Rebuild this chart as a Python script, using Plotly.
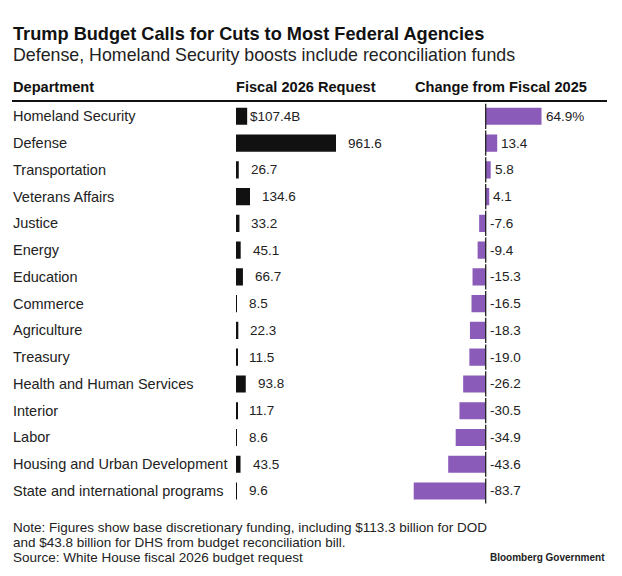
import plotly.graph_objects as go

# Dados
departments = [
    "Homeland Security", "Defense", "Transportation", "Veterans Affairs",
    "Justice", "Energy", "Education", "Commerce", "Agriculture", "Treasury",
    "Health and Human Services", "Interior", "Labor",
    "Housing and Urban Development", "State and international programs",
]
request_2026 = [107.4, 961.6, 26.7, 134.6, 33.2, 45.1, 66.7, 8.5, 22.3, 11.5,
                93.8, 11.7, 8.6, 43.5, 9.6]
change_2025 = [64.9, 13.4, 5.8, 4.1, -7.6, -9.4, -15.3, -16.5, -18.3, -19.0,
               -26.2, -30.5, -34.9, -43.6, -83.7]

W, H = 622, 576
OFF = 8  # margem padrão do body da página
FONT = "Liberation Sans"
BLACK = "#111111"
PURPLE = "#8a5bb8"
TXT = "#222222"


def px(x):
    return (x - OFF) / W


def py(y):
    return 1 - (y - OFF) / H


fig = go.Figure()

# Barras pretas: pedido fiscal 2026
fig.add_trace(go.Bar(
    x=request_2026, y=departments, orientation="h",
    marker=dict(color=BLACK, line=dict(width=0)),
    width=0.64, xaxis="x", yaxis="y", hoverinfo="x+y",
))

# Barras roxas: variação vs. 2025
fig.add_trace(go.Bar(
    x=change_2025, y=departments, orientation="h",
    marker=dict(color=PURPLE, line=dict(width=0)),
    width=0.64, xaxis="x2", yaxis="y", hoverinfo="x+y",
))

# Linha do zero em cada barra roxa
fig.add_trace(go.Scatter(
    x=[0] * len(departments), y=departments, mode="markers",
    marker=dict(symbol="line-ns", size=18, line=dict(width=1.3, color=TXT)),
    xaxis="x2", yaxis="y", hoverinfo="skip",
))

annotations = []
for i, (dep, req, chg) in enumerate(zip(departments, request_2026, change_2025)):
    # nome do departamento
    annotations.append(dict(
        x=px(11), xref="paper", y=dep, yref="y", text=dep, showarrow=False,
        xanchor="left", yanchor="middle", font=dict(size=14.5, color=TXT),
    ))
    # valor do pedido
    label = f"${req:.1f}B" if i == 0 else f"{req:.1f}"
    annotations.append(dict(
        x=req, xref="x", y=dep, yref="y", text=label, showarrow=False,
        xanchor="left", yanchor="middle", xshift=1 if i == 0 else 10,
        font=dict(size=13.5, color=TXT),
    ))
    # valor da variação
    clabel = f"{chg:.1f}%" if i == 0 else f"{chg:.1f}"
    annotations.append(dict(
        x=max(chg, 0), xref="x2", y=dep, yref="y", text=clabel, showarrow=False,
        xanchor="left", yanchor="middle", xshift=2,
        font=dict(size=13.5, color=TXT),
    ))

# Títulos e cabeçalhos
texts = [
    (11, 34, "<b>Trump Budget Calls for Cuts to Most Federal Agencies</b>", 18.2, "#111111"),
    (11, 55, "Defense, Homeland Security boosts include reconciliation funds", 17.8, TXT),
    (11, 87, "<b>Department</b>", 14.6, "#111111"),
    (234, 87, "<b>Fiscal 2026 Request</b>", 14.6, "#111111"),
    (413, 87, "<b>Change from Fiscal 2025</b>", 14.6, "#111111"),
    (11, 527, "Note: Figures show base discretionary funding, including $113.3 billion for DOD", 13.5, TXT),
    (11, 542, "and $43.8 billion for DHS from budget reconciliation bill.", 13.5, TXT),
    (11, 557, "Source: White House fiscal 2026 budget request", 13.5, TXT),
]
for x, y, t, s, c in texts:
    annotations.append(dict(
        x=px(x), y=py(y), xref="paper", yref="paper", showarrow=False,
        xanchor="left", yanchor="middle", text=t, font=dict(size=s, color=c),
    ))
annotations.append(dict(
    x=px(607), y=py(557), xref="paper", yref="paper", showarrow=False,
    xanchor="right", yanchor="middle", text="<b>Bloomberg Government</b>",
    font=dict(size=10, color=TXT),
))

n = len(departments)
row_top, row_bottom = 116.3, 491.0
step = (row_bottom - row_top) / (n - 1)

fig.update_layout(
    width=W, height=H, margin=dict(l=0, r=0, t=0, b=0),
    paper_bgcolor="white", plot_bgcolor="white",
    showlegend=False, barmode="overlay",
    font=dict(family=FONT, color=TXT),
    annotations=annotations,
    xaxis=dict(domain=[px(236), px(346)], range=[0, 110 * 961.6 / 100],
               visible=False, fixedrange=True),
    xaxis2=dict(domain=[px(400), px(600)], range=[-85.7 / 0.86, 114.3 / 0.86],
                visible=False, fixedrange=True),
    yaxis=dict(domain=[py(row_bottom + step / 2), py(row_top - step / 2)],
               range=[n - 0.5, -0.5], categoryorder="array", categoryarray=departments,
               visible=False, fixedrange=True),
    shapes=[dict(type="line", xref="paper", yref="paper", x0=px(12), x1=px(607),
                 y0=py(101), y1=py(101), line=dict(color="#111111", width=2))],
)

fig.write_html("out.html")
